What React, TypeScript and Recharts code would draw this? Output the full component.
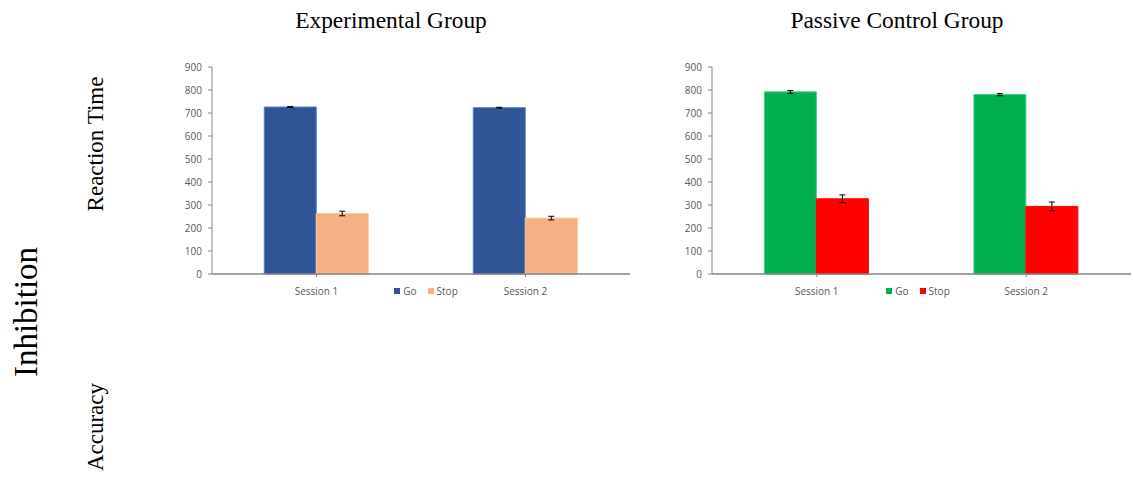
import React from 'react';
import { BarChart, Bar, XAxis, YAxis, ErrorBar, Legend } from 'recharts';

// Sessions on the category axis
const sessions = ['Session 1', 'Session 2'];

// Experimental group: mean reaction time (ms) and error
const expGo = [726, 723];
const expGoErr = [2, 2];
const expStop = [263, 243];
const expStopErr = [10, 8];

// Passive control group: mean reaction time (ms) and error
const ctlGo = [792, 780];
const ctlGoErr = [6, 5];
const ctlStop = [327, 294];
const ctlStopErr = [17, 19];

const yTicks = [0, 100, 200, 300, 400, 500, 600, 700, 800, 900];

const buildRows = (go: number[], goErr: number[], stop: number[], stopErr: number[]) =>
  sessions.map((name, i) => ({ name, go: go[i], goErr: goErr[i], stop: stop[i], stopErr: stopErr[i] }));

const expRows = buildRows(expGo, expGoErr, expStop, expStopErr);
const ctlRows = buildRows(ctlGo, ctlGoErr, ctlStop, ctlStopErr);

const AXIS = '#868686';
const TICK_TEXT = '#595959';
const SANS = '"Open Sans", sans-serif';
const SERIF = '"Liberation Serif", "Times New Roman", serif';

type Colors = { go: string; goEdge: string; stop: string; stopEdge: string };

const makeLegend = (colors: Colors) => () => (
  <div
    style={{
      display: 'flex',
      justifyContent: 'center',
      alignItems: 'center',
      height: 14,
      fontFamily: SANS,
      fontSize: 10,
      color: TICK_TEXT,
    }}
  >
    {[
      { label: 'Go', color: colors.go },
      { label: 'Stop', color: colors.stop },
    ].map((it, i) => (
      <span key={it.label} style={{ display: 'flex', alignItems: 'center', marginLeft: i ? 11 : 0 }}>
        <span style={{ display: 'inline-block', width: 6, height: 6, background: it.color, marginRight: 3 }} />
        {it.label}
      </span>
    ))}
  </div>
);

function GroupChart({
  rows,
  colors,
  width,
  rightMargin,
  legendLeft,
}: {
  rows: any[];
  colors: Colors;
  width: number;
  rightMargin: number;
  legendLeft: number;
}) {
  return (
    <BarChart
      width={width}
      height={300}
      data={rows}
      margin={{ top: 67, right: rightMargin, left: 0, bottom: 2 }}
      barGap={0}
      barCategoryGap="25%"
    >
      <XAxis
        dataKey="name"
        height={10}
        stroke={AXIS}
        tickSize={3}
        tickMargin={11}
        tick={{ fill: TICK_TEXT, fontSize: 10, fontFamily: SANS }}
        tickLine={{ stroke: AXIS }}
        axisLine={{ stroke: AXIS, strokeWidth: 1.5 }}
      />
      <YAxis
        width={62}
        domain={[0, 900]}
        ticks={yTicks}
        interval={0}
        stroke={AXIS}
        tickSize={4}
        tickMargin={6}
        tick={{ fill: TICK_TEXT, fontSize: 10, fontFamily: SANS }}
        tickLine={{ stroke: AXIS }}
        axisLine={{ stroke: AXIS }}
      />
      <Legend
        verticalAlign="bottom"
        height={14}
        content={makeLegend(colors)}
        wrapperStyle={{ left: legendLeft, width: 60 }}
      />
      <Bar dataKey="go" fill={colors.go} stroke={colors.goEdge} strokeWidth={1} isAnimationActive={false}>
        <ErrorBar dataKey="goErr" width={3} stroke="#000" strokeWidth={1} direction="y" />
      </Bar>
      <Bar dataKey="stop" fill={colors.stop} stroke={colors.stopEdge} strokeWidth={1} isAnimationActive={false}>
        <ErrorBar dataKey="stopErr" width={3} stroke="#000" strokeWidth={1} direction="y" />
      </Bar>
    </BarChart>
  );
}

export default function App() {
  return (
    <div style={{ position: 'absolute', left: 0, top: 0, width: 1133, height: 481, background: '#fff' }}>
      <svg width={1133} height={481} style={{ position: 'absolute', left: 0, top: 0 }}>
        <text x={391} y={28} textAnchor="middle" fontFamily={SERIF} fontSize={23.4} fill="#000">
          Experimental Group
        </text>
        <text x={897} y={28} textAnchor="middle" fontFamily={SERIF} fontSize={23.4} fill="#000">
          Passive Control Group
        </text>
        <text x={37} y={312} transform="rotate(-90 37 312)" textAnchor="middle" fontFamily={SERIF} fontSize={33} fill="#000">
          Inhibition
        </text>
        <text x={103} y={144} transform="rotate(-90 103 144)" textAnchor="middle" fontFamily={SERIF} fontSize={23} fill="#000">
          Reaction Time
        </text>
        <text x={103} y={427} transform="rotate(-90 103 427)" textAnchor="middle" fontFamily={SERIF} fontSize={23} fill="#000">
          Accuracy
        </text>
      </svg>
      <div style={{ position: 'absolute', left: 150, top: 0 }}>
        <GroupChart
          rows={expRows}
          width={490}
          rightMargin={10}
          legendLeft={246}
          colors={{ go: '#2F5597', goEdge: '#5B7DBB', stop: '#F4B183', stopEdge: '#F7C8A4' }}
        />
      </div>
      <div style={{ position: 'absolute', left: 650, top: 0 }}>
        <GroupChart
          rows={ctlRows}
          width={483}
          rightMargin={2}
          legendLeft={238}
          colors={{ go: '#00B050', goEdge: '#4FCB85', stop: '#FF0000', stopEdge: '#FF0000' }}
        />
      </div>
    </div>
  );
}
